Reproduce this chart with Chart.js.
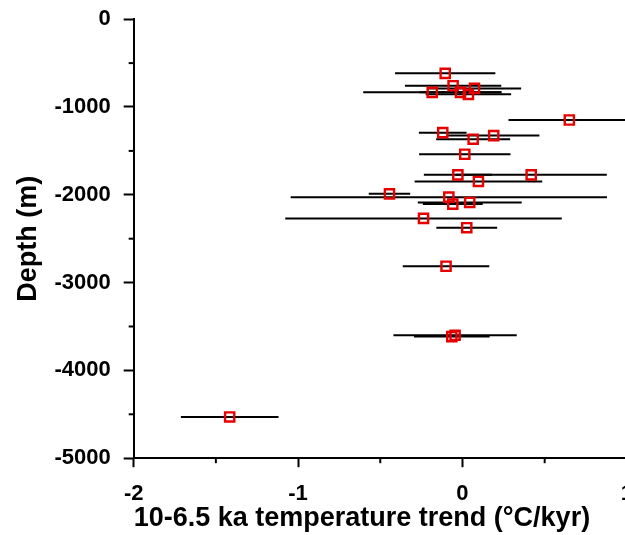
<!DOCTYPE html>
<html>
<head>
<meta charset="utf-8">
<script src="https://cdn.jsdelivr.net/npm/chart.js@4.4.0/dist/chart.umd.min.js"></script>
<style>
html, body { margin: 0; padding: 0; background: #fff; overflow: hidden; width: 625px; height: 535px; }
#wrap { width: 647px; height: 542px; margin-top: -7px; }
</style>
</head>
<body>
<div id="wrap"><canvas id="myChart" width="647" height="542"></canvas></div>
<script>
// values
var trend = [-0.105, -0.057, -0.184, -0.012, 0.036, 0.073, 0.650, -0.120, 0.065, 0.190, 0.014, -0.028,
             0.418, 0.097, -0.444, -0.083, -0.059, 0.044, -0.237, 0.026, -0.100, -0.045, -0.065, -1.416];
var depth = [-617, -758, -833, -833, -856, -788, -1148, -1292, -1367, -1326, -1538, -1773,
             -1773, -1848, -1989, -2027, -2106, -2087, -2269, -2375, -2814, -3600, -3615, -4530];
var trendErr = [0.305, 0.293, 0.420, 0.250, 0.260, 0.284, 0.370, 0.145, 0.225, 0.278, 0.278, 0.207,
                0.460, 0.388, 0.126, 0.962, 0.182, 0.316, 0.841, 0.185, 0.263, 0.375, 0.230, 0.297];
var xMinorTicks = [-1.5, -0.5, 0.5];
var yMinorTicks = [-500, -1500, -2500, -3500, -4500];

var FONT = "'Liberation Sans', Arial, sans-serif";

// horizontal error bars + minor ticks, drawn under the squares
var errorBars = {
    id: 'errorBars',
    beforeDatasetsDraw: function(chart) {
        var ctx = chart.ctx;
        var xs = chart.scales.x, ys = chart.scales.y;
        var area = chart.chartArea;
        ctx.save();
        ctx.strokeStyle = '#000';
        ctx.lineWidth = 2;
        for (var i = 0; i < trend.length; i++) {
            var y = ys.getPixelForValue(depth[i]);
            ctx.beginPath();
            ctx.moveTo(xs.getPixelForValue(trend[i] - trendErr[i]), y);
            ctx.lineTo(xs.getPixelForValue(trend[i] + trendErr[i]), y);
            ctx.stroke();
        }
        // minor ticks
        xMinorTicks.forEach(function(v) {
            var x = xs.getPixelForValue(v);
            ctx.beginPath();
            ctx.moveTo(x, area.bottom);
            ctx.lineTo(x, area.bottom + 5);
            ctx.stroke();
        });
        yMinorTicks.forEach(function(v) {
            var y = ys.getPixelForValue(v);
            ctx.beginPath();
            ctx.moveTo(area.left - 5, y);
            ctx.lineTo(area.left, y);
            ctx.stroke();
        });
        ctx.restore();
    }
};

var points = trend.map(function(t, i) { return { x: t, y: depth[i] }; });

var ctx = document.getElementById('myChart').getContext('2d');
new Chart(ctx, {
    type: 'scatter',
    data: {
        datasets: [{
            data: points,
            pointStyle: 'rect',
            pointRadius: 6.5,
            pointBorderWidth: 2.4,
            borderColor: 'rgb(230, 0, 0)',
            backgroundColor: 'rgba(0, 0, 0, 0)'
        }]
    },
    plugins: [errorBars],
    options: {
        responsive: false,
        animation: false,
        layout: { padding: { top: 8, right: 12, left: 12, bottom: 0 } },
        plugins: {
            legend: { display: false },
            tooltip: { enabled: false }
        },
        scales: {
            x: {
                type: 'linear',
                min: -2,
                max: 1,
                ticks: {
                    stepSize: 1, color: '#000', padding: 14,
                    font: { family: FONT, size: 22, weight: 'bold' },
                    callback: function(v) { return String(v); }
                },
                grid: { drawOnChartArea: false, tickLength: 9, tickWidth: 2, tickColor: '#000' },
                border: { color: '#000', width: 2 },
                title: {
                    display: true,
                    align: 'start',
                    text: '10-6.5 ka temperature trend (\u00B0C/kyr)',
                    color: '#000',
                    font: { family: FONT, size: 27, weight: 'bold' },
                    padding: { top: -19, bottom: 0 }
                }
            },
            y: {
                type: 'linear',
                min: -5000,
                max: 0,
                ticks: {
                    stepSize: 1000, color: '#000', padding: 13,
                    font: { family: FONT, size: 22, weight: 'bold' },
                    callback: function(v) { return String(v); }
                },
                grid: { drawOnChartArea: false, tickLength: 10, tickWidth: 2, tickColor: '#000' },
                border: { color: '#000', width: 2 },
                title: {
                    display: true,
                    text: 'Depth (m)',
                    color: '#000',
                    font: { family: FONT, size: 27, weight: 'bold' },
                    padding: { top: 0, bottom: -3 }
                }
            }
        }
    }
});
</script>
</body>
</html>
